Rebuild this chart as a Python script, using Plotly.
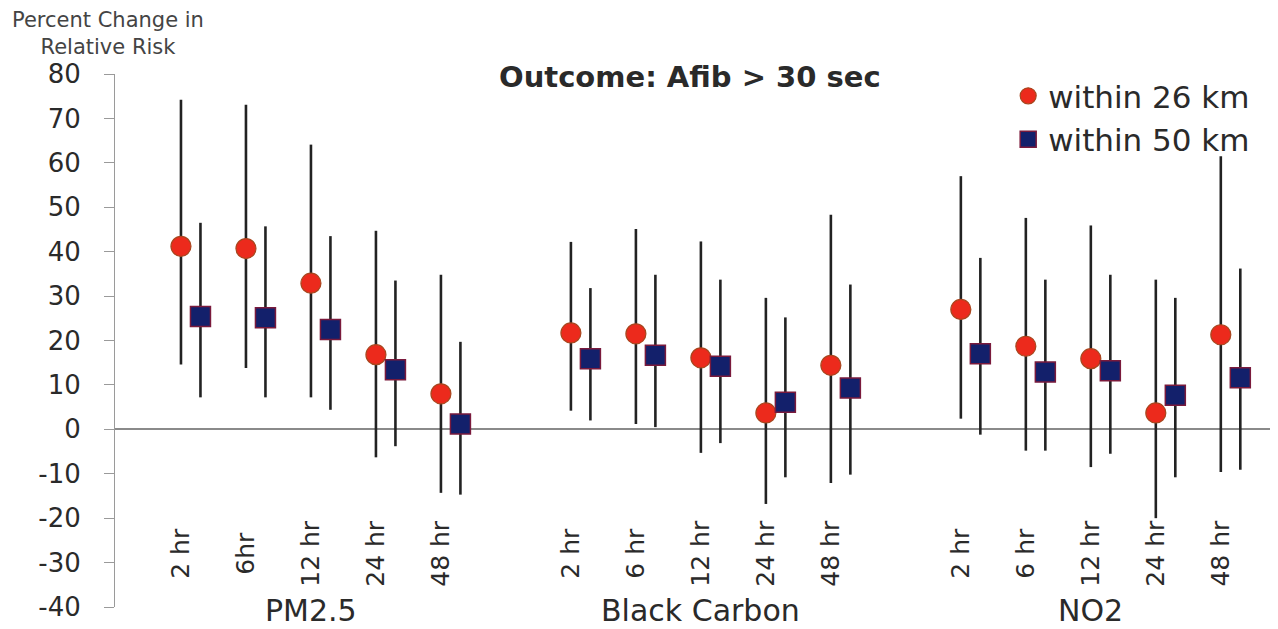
import plotly.graph_objects as go

# ---------------- data ----------------
groups = ["PM2.5", "Black Carbon", "NO2"]
lags = [
    ["2 hr", "6hr", "12 hr", "24 hr", "48 hr"],
    ["2 hr", "6 hr", "12 hr", "24 hr", "48 hr"],
    ["2 hr", "6 hr", "12 hr", "24 hr", "48 hr"],
]

# within 26 km (circles)
est_26 = [41.2, 40.7, 32.9, 16.8, 8.0,
          21.7, 21.5, 16.1, 3.7, 14.4,
          27.0, 18.7, 15.9, 3.7, 21.3]
low_26 = [14.6, 13.8, 7.2, -6.3, -14.3,
          4.2, 1.2, -5.3, -16.8, -12.1,
          2.4, -4.8, -8.5, -20.0, -9.6]
high_26 = [74.2, 73.1, 64.1, 44.7, 34.8,
           42.2, 45.1, 42.3, 29.6, 48.3,
           57.0, 47.6, 45.9, 33.7, 61.5]

# within 50 km (squares)
est_50 = [25.4, 25.1, 22.5, 13.4, 1.2,
          15.9, 16.7, 14.2, 6.1, 9.3,
          17.0, 12.9, 13.2, 7.7, 11.6]
low_50 = [7.2, 7.2, 4.4, -3.8, -14.7,
          2.0, 0.5, -3.1, -10.8, -10.2,
          -1.2, -4.8, -5.5, -10.8, -9.1]
high_50 = [46.5, 45.7, 43.5, 33.5, 19.7,
           31.8, 34.8, 33.7, 25.2, 32.6,
           38.6, 33.7, 34.8, 29.6, 36.2]

series_names = ["within 26 km", "within 50 km"]
y_ticks = list(range(-40, 81, 10))
y_tick_text = [str(v) for v in y_ticks]
title_text = "Outcome: Afib > 30 sec"
y_title = "Percent Change in<br>Relative Risk"

# ---------------- positions (slot index per category) ----------------
slot_pos = []
labels_flat = []
for g, labs in enumerate(lags):
    for j, lab in enumerate(labs):
        slot_pos.append(g * 6 + j)
        labels_flat.append(lab)
offset = 0.3
x_26 = slot_pos
x_50 = [p + offset for p in slot_pos]

FONT = "DejaVu Sans, Liberation Sans, Arial, sans-serif"
TXT = "#2a2a2a"

fig = go.Figure()

def add_series(x, est, lo, hi, name, symbol, fill, edge, ew):
    fig.add_trace(go.Scatter(
        x=x, y=est, mode="markers", name=name,
        marker=dict(symbol=symbol, size=20, color=fill,
                    line=dict(color=edge, width=ew)),
        error_y=dict(type="data", symmetric=False,
                     array=[h - e for h, e in zip(hi, est)],
                     arrayminus=[e - l for e, l in zip(est, lo)],
                     color="#222222", thickness=2.6, width=0),
        cliponaxis=False,
    ))

add_series(x_26, est_26, low_26, high_26, series_names[0], "circle",
           "#EC2A1C", "#A8461E", 1.2)
add_series(x_50, est_50, low_50, high_50, series_names[1], "square",
           "#13206B", "#7A1A3C", 1.5)

annotations = []
# rotated lag labels
for x, lab in zip(slot_pos, labels_flat):
    annotations.append(dict(x=x, y=-27.8, xref="x", yref="y", text=lab,
                            textangle=-90, showarrow=False,
                            xanchor="center", yanchor="middle",
                            font=dict(family=FONT, size=25, color=TXT)))
# group labels
for g, name in enumerate(groups):
    annotations.append(dict(x=g * 6 + 2, y=-0.007, xref="x", yref="paper",
                            text=name, showarrow=False,
                            xanchor="center", yanchor="middle",
                            font=dict(family=FONT, size=30, color=TXT)))
# title
annotations.append(dict(x=0.494, y=0.994, xref="paper", yref="paper",
                        text="<b>" + title_text + "</b>", showarrow=False,
                        xanchor="center", yanchor="middle",
                        font=dict(family=FONT, size=29, color=TXT)))
# y-axis title
annotations.append(dict(x=-0.006, y=1.076, xref="paper", yref="paper",
                        text=y_title, showarrow=False,
                        xanchor="center", yanchor="middle",
                        font=dict(family=FONT, size=21, color="#444444")))

# the page body adds an 8px offset; size the figure so the plot lands in place
fig.update_layout(
    width=1270, height=621,
    margin=dict(l=107, r=0, t=66, b=22, autoexpand=False),
    paper_bgcolor="white", plot_bgcolor="white",
    showlegend=True,
    legend=dict(x=0.768, y=1.009, xanchor="left", yanchor="top",
                font=dict(family=FONT, size=31, color=TXT),
                bgcolor="rgba(0,0,0,0)", itemwidth=30,
                tracegroupgap=0),
    annotations=annotations,
    xaxis=dict(range=[-1.015, 16.88], visible=False),
    yaxis=dict(range=[-40, 80], tickvals=y_ticks, ticktext=y_tick_text,
               showgrid=False, showline=True, linecolor="#9a9a9a",
               linewidth=1, ticks="outside", ticklen=10, tickcolor="#9a9a9a",
               ticklabelstandoff=18,
               tickfont=dict(family=FONT, size=26, color=TXT),
               zeroline=True, zerolinecolor="#8a8a8a", zerolinewidth=1.5),
)

fig.write_html("out.html")
